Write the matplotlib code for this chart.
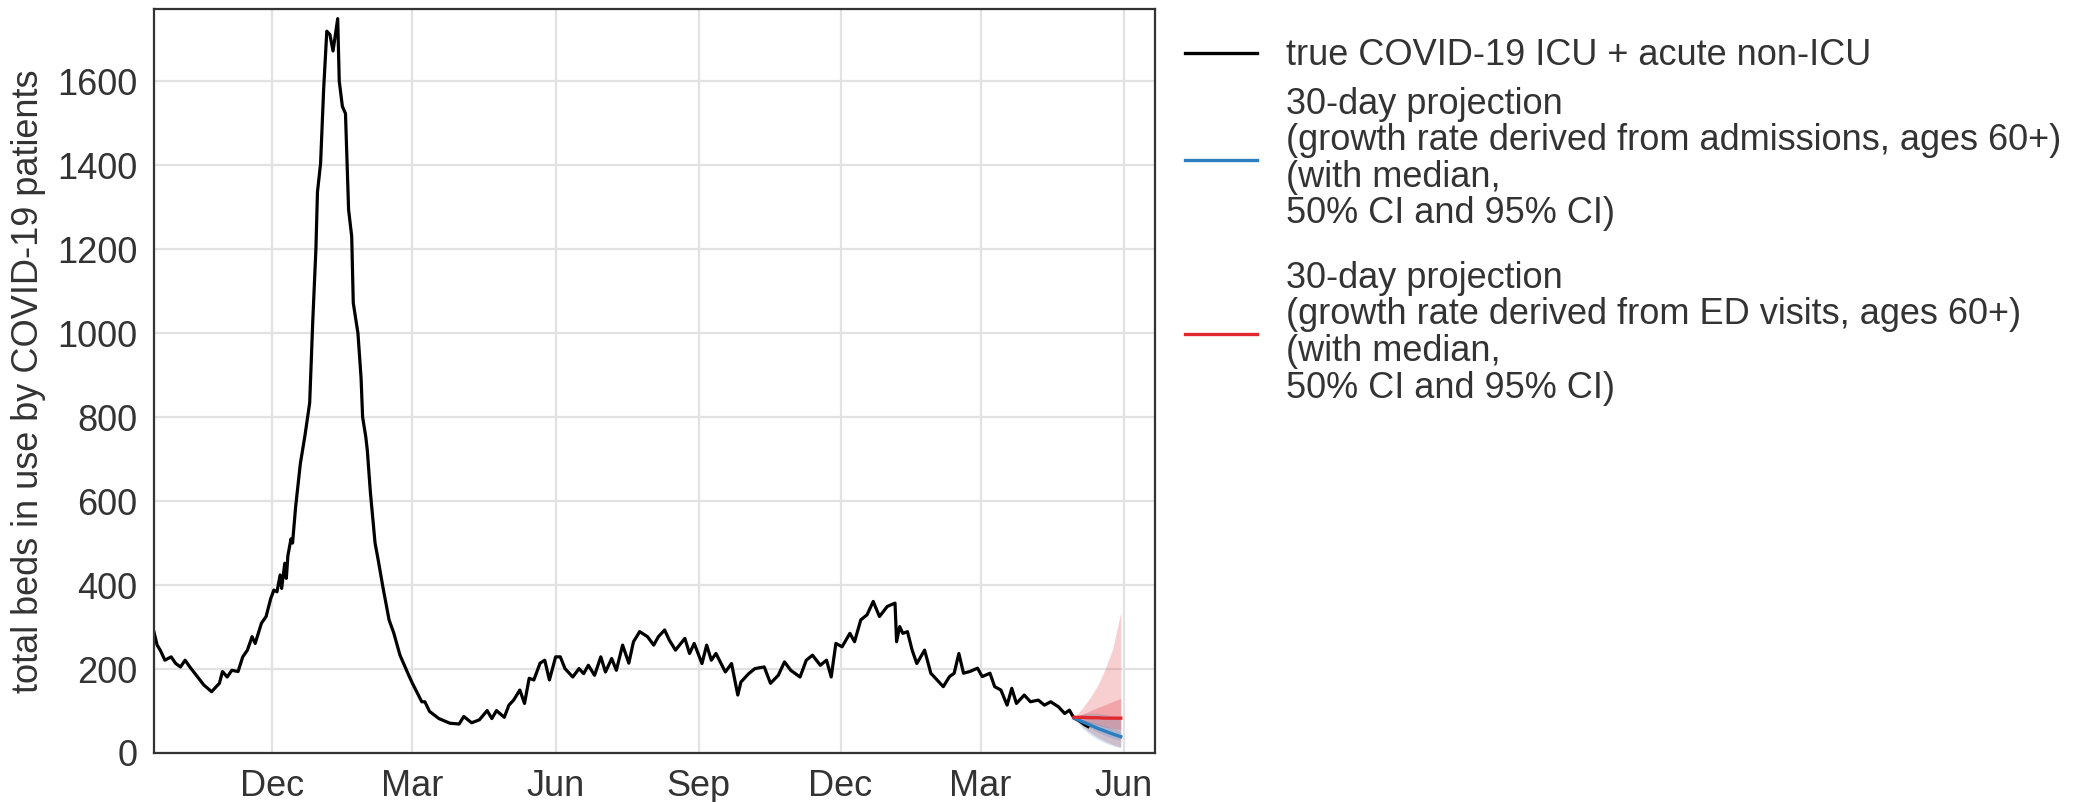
import matplotlib
matplotlib.use("Agg")
import matplotlib.pyplot as plt
import matplotlib.dates as mdates
import pandas as pd

plt.rcParams['font.family'] = ['Liberation Sans', 'DejaVu Sans']

obs_dates = [
    "2021-09-16", "2021-09-18", "2021-09-20", "2021-09-23", "2021-09-27", "2021-09-30",
    "2021-10-03", "2021-10-06", "2021-10-09", "2021-10-14", "2021-10-18", "2021-10-23",
    "2021-10-28", "2021-10-30", "2021-11-02", "2021-11-05", "2021-11-09", "2021-11-12",
    "2021-11-15", "2021-11-18", "2021-11-20", "2021-11-24", "2021-11-27", "2021-11-30",
    "2021-12-02", "2021-12-04", "2021-12-06", "2021-12-07", "2021-12-09", "2021-12-10",
    "2021-12-11", "2021-12-13", "2021-12-14", "2021-12-16", "2021-12-19", "2021-12-22",
    "2021-12-25", "2021-12-27", "2021-12-29", "2021-12-30", "2022-01-01", "2022-01-03",
    "2022-01-05", "2022-01-07", "2022-01-09", "2022-01-12", "2022-01-13", "2022-01-15",
    "2022-01-17", "2022-01-19", "2022-01-21", "2022-01-22", "2022-01-25", "2022-01-27",
    "2022-01-28", "2022-01-30", "2022-01-31", "2022-02-02", "2022-02-05", "2022-02-07",
    "2022-02-10", "2022-02-14", "2022-02-17", "2022-02-21", "2022-02-27", "2022-03-01",
    "2022-03-07", "2022-03-09", "2022-03-12", "2022-03-18", "2022-03-25", "2022-03-31",
    "2022-04-03", "2022-04-08", "2022-04-13", "2022-04-18", "2022-04-21", "2022-04-24",
    "2022-04-29", "2022-05-02", "2022-05-05", "2022-05-09", "2022-05-12", "2022-05-15",
    "2022-05-18", "2022-05-22", "2022-05-25", "2022-05-28", "2022-06-01", "2022-06-04",
    "2022-06-07", "2022-06-12", "2022-06-16", "2022-06-19", "2022-06-22", "2022-06-26",
    "2022-06-30", "2022-07-03", "2022-07-07", "2022-07-10", "2022-07-14", "2022-07-18",
    "2022-07-21", "2022-07-25", "2022-07-30", "2022-08-03", "2022-08-06", "2022-08-10",
    "2022-08-13", "2022-08-17", "2022-08-23", "2022-08-26", "2022-08-29", "2022-09-03",
    "2022-09-06", "2022-09-09", "2022-09-12", "2022-09-18", "2022-09-22", "2022-09-26",
    "2022-09-28", "2022-10-03", "2022-10-07", "2022-10-13", "2022-10-17", "2022-10-22",
    "2022-10-26", "2022-10-30", "2022-11-05", "2022-11-09", "2022-11-13", "2022-11-18",
    "2022-11-22", "2022-11-25", "2022-11-28", "2022-12-02", "2022-12-07", "2022-12-10",
    "2022-12-14", "2022-12-18", "2022-12-22", "2022-12-26", "2022-12-31", "2023-01-05",
    "2023-01-06", "2023-01-08", "2023-01-10", "2023-01-13", "2023-01-16", "2023-01-19",
    "2023-01-24", "2023-01-28", "2023-01-31", "2023-02-05", "2023-02-09", "2023-02-12",
    "2023-02-15", "2023-02-18", "2023-02-22", "2023-02-27", "2023-03-02", "2023-03-07",
    "2023-03-10", "2023-03-14", "2023-03-18", "2023-03-21", "2023-03-24", "2023-03-29",
    "2023-04-02", "2023-04-07", "2023-04-11", "2023-04-15", "2023-04-20", "2023-04-24",
    "2023-04-27", "2023-04-30", "2023-05-04", "2023-05-07", "2023-05-09",
]
obs_values = [
    288, 257, 245, 221, 229, 213,
    205, 221, 205, 181, 162, 146,
    166, 194, 181, 197, 194, 229,
    245, 277, 261, 309, 325, 368,
    388, 384, 424, 392, 452, 416,
    470, 510, 500, 587, 689, 757,
    834, 1030, 1200, 1336, 1404, 1583,
    1719, 1711, 1672, 1749, 1600, 1540,
    1523, 1294, 1230, 1072, 1000, 894,
    800, 754, 722, 621, 500, 460,
    396, 317, 286, 233, 182, 166,
    122, 122, 99, 82, 71, 69,
    87, 72, 79, 101, 82, 101,
    85, 114, 126, 150, 118, 178,
    174, 214, 221, 174, 229, 229,
    201, 181, 201, 189, 209, 185,
    229, 193, 225, 197, 257, 214,
    265, 289, 277, 257, 277, 293,
    269, 245, 273, 237, 261, 213,
    257, 221, 237, 193, 213, 138,
    169, 189, 201, 205, 166, 185,
    217, 197, 181, 221, 233, 209,
    221, 181, 261, 253, 285, 265,
    317, 329, 361, 325, 349, 357,
    265, 301, 285, 289, 245, 213,
    245, 190, 178, 158, 182, 190,
    237, 190, 194, 202, 182, 190,
    158, 150, 114, 154, 118, 138,
    122, 126, 114, 122, 110, 94,
    102, 83, 75, 67, 63,
]

# 30-day projections
proj_dates = ["2023-04-30", "2023-05-05", "2023-05-10", "2023-05-15",
              "2023-05-20", "2023-05-25", "2023-05-30"]
adm_median = [83, 75, 67, 59, 52, 45, 39]
adm_q25 = [83, 70, 60, 50, 42, 35, 29]
adm_q75 = [83, 80, 75, 70, 64, 58, 52]
adm_q025 = [83, 60, 45, 33, 24, 17, 12]
adm_q975 = [83, 92, 95, 95, 92, 88, 84]

ed_median = [85, 85, 84, 84, 83, 83, 83]
ed_q25 = [85, 78, 72, 67, 62, 58, 55]
ed_q75 = [85, 92, 100, 108, 115, 123, 130]
ed_q025 = [85, 65, 50, 38, 28, 20, 14]
ed_q975 = [85, 105, 130, 160, 200, 250, 335]

x_obs = pd.to_datetime(obs_dates)
x_proj = pd.to_datetime(proj_dates)

FS = 26
fig = plt.figure(figsize=(20.76, 8.02), dpi=100)
ax = fig.add_axes([154 / 2076, 49 / 802, 1001 / 2076, 744 / 802])

blue = "#2b7fc0"
red = "#e0282e"

# CI bands
ax.fill_between(x_proj, ed_q025, ed_q975, color=red, alpha=0.22, lw=0)
ax.fill_between(x_proj, ed_q25, ed_q75, color=red, alpha=0.25, lw=0)
ax.fill_between(x_proj, adm_q025, adm_q975, color=blue, alpha=0.2, lw=0)
ax.fill_between(x_proj, adm_q25, adm_q75, color=blue, alpha=0.2, lw=0)

l_obs, = ax.plot(x_obs, obs_values, color="black", lw=2.3)
l_adm, = ax.plot(x_proj, adm_median, color=blue, lw=2.4)
l_ed, = ax.plot(x_proj, ed_median, color=red, lw=2.4)

ax.set_xlim(pd.Timestamp("2021-09-16"), pd.Timestamp("2023-06-21"))
ax.set_ylim(0, 1772)
ax.set_yticks([0, 200, 400, 600, 800, 1000, 1200, 1400, 1600])
ax.xaxis.set_major_locator(mdates.MonthLocator(bymonth=[3, 6, 9, 12]))
ax.xaxis.set_major_formatter(mdates.DateFormatter("%b"))

ax.grid(True, color="#e2e2e2", lw=1.6)
ax.set_axisbelow(True)
for s in ax.spines.values():
    s.set_color("#333333")
    s.set_linewidth(1.6)
ax.tick_params(length=0, labelsize=FS, colors="#333333")
ax.tick_params(axis="y", pad=12)
ax.tick_params(axis="x", pad=11.5)
ax.set_ylabel("total beds in use by COVID-19 patients", fontsize=FS, color="#333333", labelpad=8)

leg_kw = dict(loc="upper left", frameon=False, fontsize=FS, handlelength=2.0,
              handletextpad=0.8, borderpad=0, borderaxespad=0)
leg1 = fig.legend([l_obs], ["true COVID-19 ICU + acute non-ICU"],
                  bbox_to_anchor=(1185 / 2076, 0.952), **leg_kw)
leg2 = fig.legend([l_adm, l_ed],
                  ["30-day projection\n(growth rate derived from admissions, ages 60+)\n(with median,\n50% CI and 95% CI)",
                   "30-day projection\n(growth rate derived from ED visits, ages 60+)\n(with median,\n50% CI and 95% CI)"],
                  bbox_to_anchor=(1185 / 2076, 0.892), labelspacing=0.81, **leg_kw)
for leg in (leg1, leg2):
    for t in leg.get_texts():
        t.set_color("#333333")
        t.set_linespacing(1.06)
    for h in leg.legend_handles:
        h.set_linewidth(2.4)

fig.savefig("out.png", dpi=100, facecolor="white")
